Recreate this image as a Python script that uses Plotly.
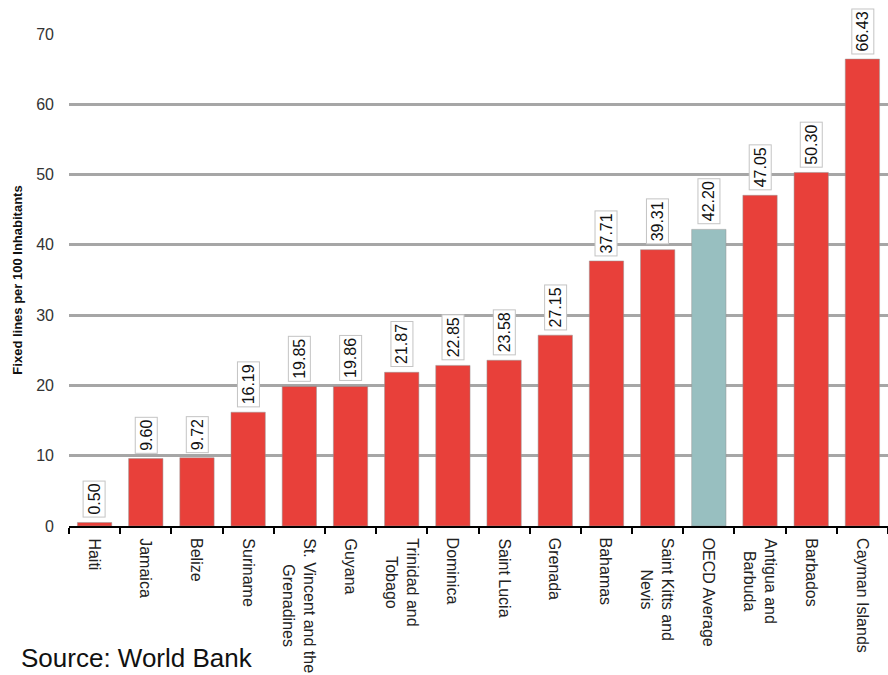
import plotly.graph_objects as go

# Fixed telephone lines per 100 inhabitants, Caribbean vs OECD average
countries = [
    "Haiti", "Jamaica", "Belize", "Suriname", "St. Vincent and the<br>Grenadines",
    "Guyana", "Trinidad and<br>Tobago", "Dominica", "Saint Lucia", "Grenada",
    "Bahamas", "Saint Kitts and<br>Nevis", "OECD Average", "Antigua and<br>Barbuda",
    "Barbados", "Cayman Islands",
]
values = [0.50, 9.60, 9.72, 16.19, 19.85, 19.86, 21.87, 22.85, 23.58, 27.15,
          37.71, 39.31, 42.20, 47.05, 50.30, 66.43]
y_ticks = [0, 10, 20, 30, 40, 50, 60, 70]

RED = "#e8403a"
TEAL = "#98bfc0"
colors = [TEAL if c == "OECD Average" else RED for c in countries]

FONT = "Liberation Sans, Arial, sans-serif"

fig = go.Figure(
    go.Bar(
        x=countries,
        y=values,
        marker=dict(color=colors, line=dict(color="rgba(150,150,150,0.5)", width=1)),
        width=0.67,
    )
)

# value labels in small boxed, rotated tags above each bar
for c, v in zip(countries, values):
    fig.add_annotation(
        x=c, y=v, text=f"{v:.2f}", showarrow=False,
        yanchor="bottom", yshift=5, textangle=-90,
        font=dict(family=FONT, size=16, color="#111"),
        bgcolor="white", bordercolor="#c4c4c4", borderwidth=1, borderpad=2,
    )

# category names, rotated, with wrapped lines centred on each other
for c in countries:
    fig.add_annotation(
        x=c, y=0, text=c, showarrow=False,
        yanchor="top", yshift=-10, textangle=90, align="center",
        font=dict(family=FONT, size=16, color="#222"),
    )

fig.add_annotation(
    xref="paper", yref="paper", x=-49 / 819, y=-0.300,
    xanchor="left", yanchor="bottom", showarrow=False, borderpad=0,
    text="Source: World Bank", font=dict(family=FONT, size=26, color="#111"),
)

fig.update_layout(
    width=888, height=675,
    margin=dict(l=69, r=0, t=34, b=149),
    plot_bgcolor="white", paper_bgcolor="white",
    showlegend=False,
    font=dict(family=FONT),
)
fig.update_xaxes(
    type="category", showticklabels=False,
    showline=True, linecolor="black", linewidth=2,
    ticks="outside", tickson="boundaries", ticklen=6, tickwidth=2, tickcolor="black",
    showgrid=False,
)
fig.update_yaxes(
    range=[0, 70], tickvals=y_ticks,
    tickfont=dict(family=FONT, size=16, color="#333"),
    showgrid=True, gridcolor="#a6a6a6", gridwidth=3,
    zeroline=False, ticks="", ticklabelstandoff=14,
    title=dict(text="<b>Fixed lines per 100 Inhabitants</b>",
               font=dict(family=FONT, size=13, color="#111"), standoff=10),
)

fig.write_html("out.html")
